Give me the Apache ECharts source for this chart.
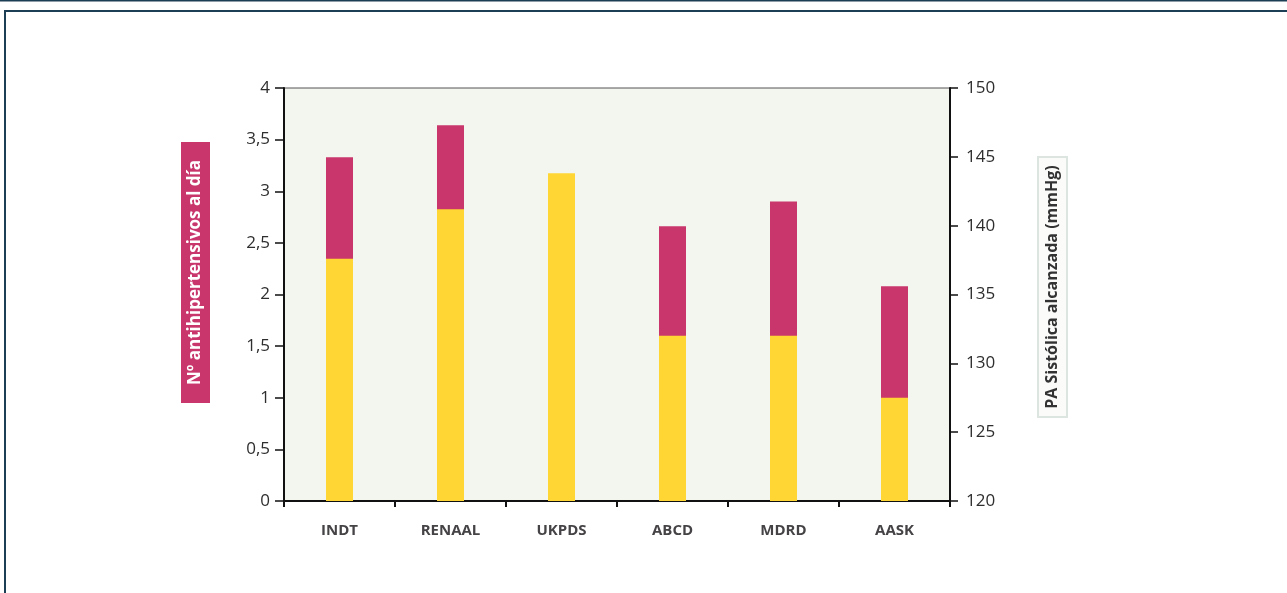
<!DOCTYPE html>
<html>
<head>
<meta charset="utf-8">
<script src="https://cdn.jsdelivr.net/npm/echarts@6/dist/echarts.min.js"></script>
<style>
  html, body { margin: 0; padding: 0; background: #ffffff; }
  #chart { width: 1287px; height: 593px; }
</style>
</head>
<body>
<div id="chart"></div>
<script>
// Trials shown along the category axis
const trials = ['INDT', 'RENAAL', 'UKPDS', 'ABCD', 'MDRD', 'AASK'];
// Mean number of antihypertensive drugs per day (left axis)
const drugsPerDay = [3.33, 3.64, null, 2.66, 2.9, 2.08];
// Achieved systolic blood pressure, mmHg (right axis)
const systolicBP = [137.6, 141.2, 143.8, 132, 132, 127.5];

const leftTitle = 'Nº antihipertensivos al día';
const rightTitle = 'PA Sistólica alcanzada (mmHg)';

const FONT = '"Open Sans", "Noto Sans", sans-serif';
const MAGENTA = '#C8366B';
const YELLOW = '#FFD633';
const FRAME = '#1d3f55';

const chart = echarts.init(document.getElementById('chart'), null, { renderer: 'canvas' });

const commaFmt = v => String(v).replace('.', ',');

chart.setOption({
  animation: false,
  backgroundColor: '#ffffff',
  grid: {
    left: 284, right: 337, top: 88, bottom: 92,
    show: true,
    backgroundColor: '#F3F5EF',
    borderColor: '#555555',
    borderWidth: 1
  },
  xAxis: {
    type: 'category',
    data: trials,
    boundaryGap: true,
    axisLine: { lineStyle: { color: '#111', width: 2 } },
    axisTick: { show: true, length: 6, lineStyle: { color: '#111', width: 2 } },
    axisLabel: {
      margin: 22,
      color: '#454345',
      fontFamily: FONT,
      fontWeight: 'bold',
      fontSize: 15
    }
  },
  yAxis: [
    {
      type: 'value',
      min: 0, max: 4, interval: 0.5,
      position: 'left',
      splitLine: { show: false },
      axisLine: { show: true, lineStyle: { color: '#111', width: 2 } },
      axisTick: { show: true, length: 9, lineStyle: { color: '#111', width: 1.5 } },
      axisLabel: {
        margin: 14,
        color: '#2e2e2e',
        fontFamily: FONT,
        fontSize: 17,
        formatter: commaFmt
      }
    },
    {
      type: 'value',
      min: 120, max: 150, interval: 5,
      position: 'right',
      splitLine: { show: false },
      axisLine: { show: true, lineStyle: { color: '#111', width: 2 } },
      axisTick: { show: true, length: 8, lineStyle: { color: '#111', width: 1.5 } },
      axisLabel: {
        margin: 16,
        color: '#2e2e2e',
        fontFamily: FONT,
        fontSize: 17,
        formatter: commaFmt
      }
    }
  ],
  series: [
    {
      name: leftTitle,
      type: 'bar',
      yAxisIndex: 0,
      data: drugsPerDay,
      barWidth: 27,
      barGap: '-100%',
      itemStyle: { color: MAGENTA },
      clip: true
    },
    {
      name: rightTitle,
      type: 'bar',
      yAxisIndex: 1,
      data: systolicBP,
      barWidth: 27,
      barGap: '-100%',
      itemStyle: { color: YELLOW },
      clip: true
    }
  ],
  graphic: [
    // page frame
    { type: 'rect', shape: { x: 0, y: 0, width: 1287, height: 1.5 }, style: { fill: FRAME }, silent: true },
    { type: 'rect', shape: { x: 4, y: 10, width: 1283, height: 2 }, style: { fill: FRAME }, silent: true },
    { type: 'rect', shape: { x: 4, y: 10, width: 2, height: 583 }, style: { fill: FRAME }, silent: true },
    // left axis title box
    { type: 'rect', shape: { x: 181, y: 142, width: 29, height: 261 }, style: { fill: MAGENTA }, silent: true },
    {
      type: 'text', x: 195.5, y: 272.5, rotation: Math.PI / 2, silent: true,
      style: {
        text: leftTitle, fill: '#ffffff', font: 'bold 17px ' + FONT,
        align: 'center', verticalAlign: 'middle'
      }
    },
    // right axis title box
    {
      type: 'rect', shape: { x: 1038, y: 157, width: 29, height: 260 },
      style: { fill: '#fbfcfa', stroke: '#dde5e0', lineWidth: 2 }, silent: true
    },
    {
      type: 'text', x: 1052.5, y: 287, rotation: Math.PI / 2, silent: true,
      style: {
        text: rightTitle, fill: '#333333', font: 'bold 16px ' + FONT,
        align: 'center', verticalAlign: 'middle'
      }
    }
  ]
});
</script>
</body>
</html>
